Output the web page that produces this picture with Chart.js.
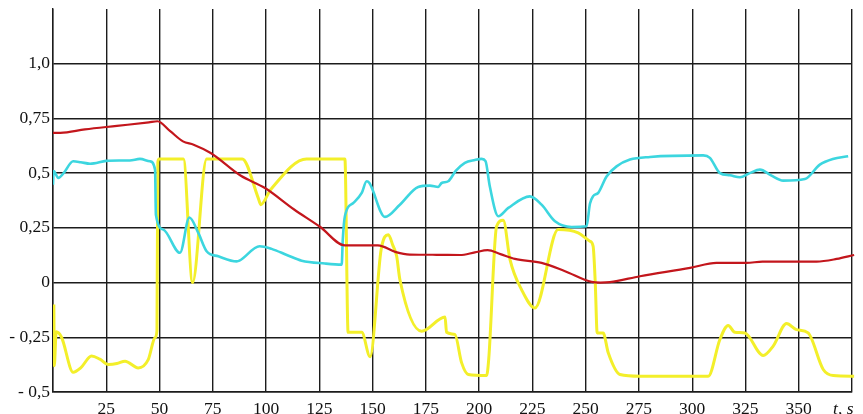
<!DOCTYPE html>
<html>
<head>
<meta charset="utf-8">
<script src="https://cdn.jsdelivr.net/npm/chart.js@4/dist/chart.umd.min.js"></script>
<style>
  html, body { margin: 0; padding: 0; background: #ffffff; }
  #wrap { width: 863px; height: 414px; }
</style>
</head>
<body>
<div id="wrap"><canvas id="c" width="863" height="414"></canvas></div>
<script>
// Time axis, seconds (the unit label sits on the last tick, nudged left with trailing spaces)
const xTickLabels = { 25: '25', 50: '50', 75: '75', 100: '100', 125: '125', 150: '150', 175: '175',
  200: '200', 225: '225', 250: '250', 275: '275', 300: '300', 325: '325', 350: '350', 375: 't, s    ' };
const yTickLabels = { '1': '1,0', '0.75': '0,75', '0.5': '0,5', '0.25': '0,25', '0': '0',
  '-0.25': '- 0,25', '-0.5': '- 0,5' };

// Red trace
const redT = [0, 3.5, 15, 30, 45, 49, 55, 61, 66, 74, 88, 99.5, 113, 125.3, 137, 152.5, 161, 167.5, 180, 191,
  198, 204, 210, 216.8, 229.3, 240.3, 252.8, 257, 261.4, 275.5, 299, 311.4, 325.5, 333, 358.4, 367.8, 376];
const redV = [0.684, 0.684, 0.700, 0.716, 0.732, 0.737, 0.692, 0.645, 0.630, 0.592, 0.489, 0.432, 0.335, 0.255, 0.170, 0.170, 0.139, 0.128, 0.127, 0.126,
  0.138, 0.148, 0.130, 0.108, 0.090, 0.052, 0.003, 0.000, 0.002, 0.029, 0.067, 0.090, 0.090, 0.096, 0.096, 0.108, 0.126];

// Cyan trace
const cyanT = [0, 0.3, 2.5, 5, 9.5, 13, 17.4, 25, 31, 36, 40.8, 45.5, 47.9, 48.3, 51.8, 59.6, 64, 68.2, 72.1, 77.6,
  86.2, 87.5, 97, 102.6, 110, 116.7, 127.6, 135.5, 136, 137, 141, 144.9, 147.2, 148.5, 155.8, 162.8, 171.4, 176.9, 180.8, 182.4,
  185.5, 189, 193.3, 198, 201.2, 203, 205, 209, 213.7, 223.8, 229.3, 235.6, 243.4, 250.4, 252, 253.5, 255.9, 259.8, 264.5, 270.8,
  280.2, 305.2, 308.3, 313, 317.7, 322.4, 327, 331.8, 337, 342.7, 352.9, 359.9, 366, 373.2];
const cyanV = [0.447, 0.510, 0.478, 0.500, 0.554, 0.550, 0.543, 0.556, 0.558, 0.558, 0.565, 0.554, 0.516, 0.310, 0.242, 0.136, 0.297, 0.227, 0.143, 0.120,
  0.097, 0.100, 0.166, 0.154, 0.125, 0.100, 0.087, 0.082, 0.196, 0.303, 0.364, 0.410, 0.463, 0.455, 0.300, 0.356, 0.437, 0.443, 0.437, 0.455,
  0.463, 0.510, 0.547, 0.560, 0.565, 0.555, 0.440, 0.303, 0.341, 0.394, 0.356, 0.280, 0.254, 0.257, 0.360, 0.395, 0.410, 0.485, 0.531, 0.562,
  0.574, 0.581, 0.570, 0.500, 0.490, 0.481, 0.500, 0.516, 0.490, 0.466, 0.473, 0.539, 0.565, 0.577];

// Yellow trace
const yellowT = [0.4, 0.6, 1.5, 4, 9.5, 13, 18.1, 22, 26, 30, 33.8, 40, 44.7, 47.9, 48.8, 49.2, 49.8, 61.2, 65.5, 72.1,
  88.8, 96.3, 97.5, 102.2, 119, 137, 138.5, 144.9, 148.8, 154, 157.4, 159.5, 161.3, 162.8, 173, 184, 184.7, 188.6, 191.8, 194.9,
  203.5, 204.5, 208.2, 211.3, 214.5, 219.9, 226.2, 237.1, 246.5, 252, 253.5, 254.5, 255.4, 258.2, 260.6, 266.1, 275.5, 307.5, 313, 316.9,
  320, 324.7, 333.3, 338, 344.3, 348.9, 354.4, 361.5, 366.2, 376];
const yellowV = [-0.100, -0.380, -0.225, -0.250, -0.410, -0.390, -0.336, -0.350, -0.374, -0.370, -0.359, -0.390, -0.352, -0.252, -0.220, 0.550, 0.565, 0.565, 0.000, 0.565,
  0.565, 0.387, 0.356, 0.425, 0.565, 0.565, -0.227, -0.227, -0.339, 0.150, 0.219, 0.170, 0.120, 0.014, -0.222, -0.157, -0.227, -0.237, -0.367, -0.420,
  -0.425, -0.350, 0.257, 0.285, 0.105, -0.032, -0.116, 0.242, 0.227, 0.189, 0.166, 0.000, -0.230, -0.230, -0.321, -0.420, -0.428, -0.428, -0.260, -0.196,
  -0.227, -0.230, -0.333, -0.290, -0.187, -0.215, -0.230, -0.397, -0.425, -0.428];

const toPoints = (ts, vs) => ts.map((t, i) => ({ x: t, y: vs[i] }));

const serif = "'Liberation Serif', 'DejaVu Serif', serif";

const trace = (data, color, width) => ({
  data, borderColor: color, borderWidth: width, pointRadius: 0, fill: false,
  cubicInterpolationMode: 'monotone', clip: { left: 0, top: 0, right: 6, bottom: 0 }
});

new Chart(document.getElementById('c'), {
  type: 'line',
  data: {
    datasets: [
      trace(toPoints(redT, redV), '#c3161c', 2.2),
      trace(toPoints(cyanT, cyanV), '#3cd6df', 2.6),
      trace(toPoints(yellowT, yellowV), '#f3ef2a', 3)
    ]
  },
  options: {
    responsive: false,
    devicePixelRatio: 1,
    animation: false,
    layout: { padding: { top: 9, right: 11, left: 0, bottom: 0 } },
    plugins: { legend: { display: false }, tooltip: { enabled: false } },
    scales: {
      x: {
        type: 'linear', min: 0, max: 375,
        grid: { color: '#1c1c1c', lineWidth: 1.4, drawTicks: false },
        border: { color: '#1c1c1c', width: 1.4 },
        ticks: {
          stepSize: 25, padding: 7, color: '#111',
          maxRotation: 0, autoSkip: false,
          font: (ctx) => ({ family: serif, size: 17.5, style: ctx.tick && ctx.tick.value === 375 ? 'italic' : 'normal' }),
          callback: (v) => xTickLabels[v] || ''
        },
        afterFit: (s) => { s.height = 22; s.paddingLeft = 0; s.paddingRight = 0; }
      },
      y: {
        type: 'linear', min: -0.5, max: 1.25,
        grid: {
          drawTicks: false, lineWidth: 1.4,
          color: (ctx) => (ctx.tick && ctx.tick.value > 1.1 ? 'rgba(0,0,0,0)' : '#1c1c1c')
        },
        border: { color: '#1c1c1c', width: 1.4 },
        ticks: {
          stepSize: 0.25, padding: 3, color: '#111',
          font: { family: serif, size: 17.5 },
          callback: (v) => yTickLabels[String(Math.round(v * 100) / 100)] || ''
        },
        afterFit: (s) => { s.width = 53; s.paddingTop = 0; s.paddingBottom = 0; }
      }
    }
  }
});
</script>
</body>
</html>
